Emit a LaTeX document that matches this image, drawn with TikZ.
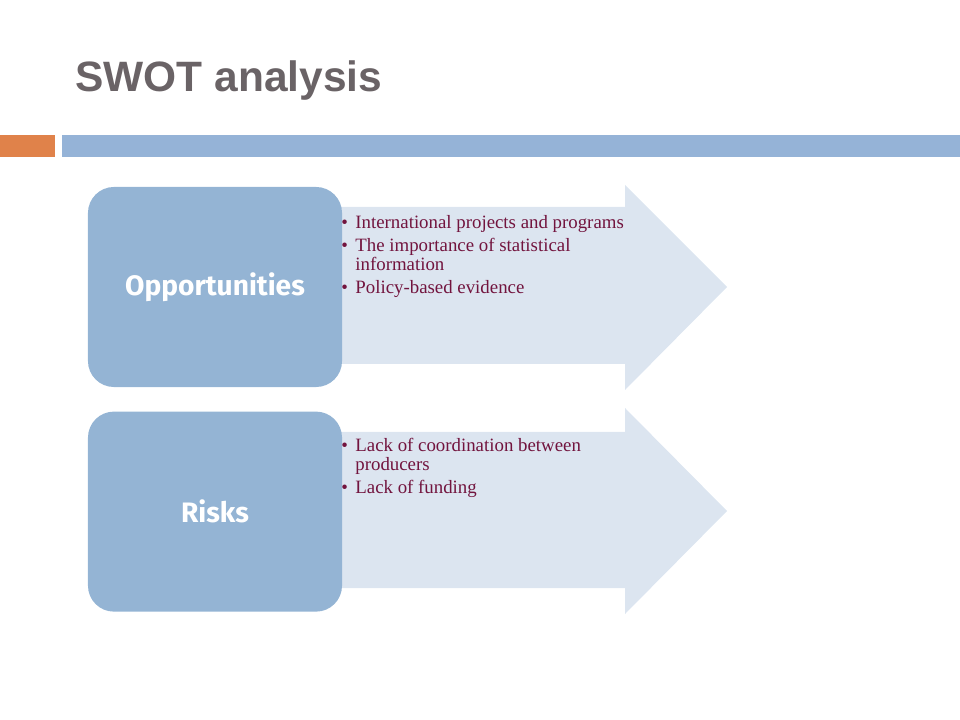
\documentclass[tikz,border=0pt]{standalone}
\usepackage{fontspec}
\setmainfont{Liberation Serif}
\newfontfamily\headfont{Liberation Sans}
\newfontfamily\boxfont{Fira Sans}
\usetikzlibrary{positioning}
\definecolor{barblue}{HTML}{95B3D7}
\definecolor{barorange}{HTML}{E0824A}
\definecolor{boxblue}{HTML}{94B4D4}
\definecolor{arrowfill}{HTML}{DCE5F0}
\definecolor{itemred}{HTML}{72143E}
\definecolor{titlegray}{HTML}{6A6366}
\newcommand{\itm}{\textbullet\hspace{0.4em}}
\newcommand{\cont}{\hspace{0.75em}}

\begin{document}
\begin{tikzpicture}[x=0.025cm,y=-0.025cm,
label box/.style={fill=boxblue,rounded corners=0.65cm,minimum width=6.35cm,
minimum height=5cm,text=white,font=\boxfont\bfseries\fontsize{20}{22}\selectfont},
items/.style={anchor=base west,align=left,text=itemred,inner sep=0pt,
font=\fontsize{13.4}{13.6}\selectfont},
bar/.style={inner sep=0pt,minimum height=0.55cm,anchor=north west}]
\useasboundingbox (0,0) rectangle (960,720);
% heading
\node[anchor=base west,inner sep=0pt,text=titlegray,
font=\headfont\bfseries\fontsize{30.2}{34}\selectfont] (title) at (75,92) {SWOT analysis};
\node[bar,fill=barorange,minimum width=1.375cm] (orangebar) at (0,135) {};
\node[bar,fill=barblue,minimum width=22.45cm] (bluebar) at (62,135) {};
% arrows
\fill[arrowfill] (330,207)--(625,207)--(625,185)--(727,287)--(625,390)--(625,364)--(330,364)--cycle;
\fill[arrowfill] (330,432)--(625,432)--(625,408)--(727,511)--(625,614)--(625,588)--(330,588)--cycle;
% boxes
\node[label box] (opp) at (215,287) {Opportunities};
\node[label box,below=0.6cm of opp] (risk) {Risks};
% bullet texts (base = last line)
\node[items] (opptxt) at (341,294) {\itm International projects and programs\\[2.8pt]
\itm The importance of statistical\\
\cont information\\[2.8pt]
\itm Policy-based evidence};
\node[items] (risktxt) at (341,494) {\itm Lack of coordination between\\
\cont producers\\[2.8pt]
\itm Lack of funding};
\end{tikzpicture}
\end{document}
